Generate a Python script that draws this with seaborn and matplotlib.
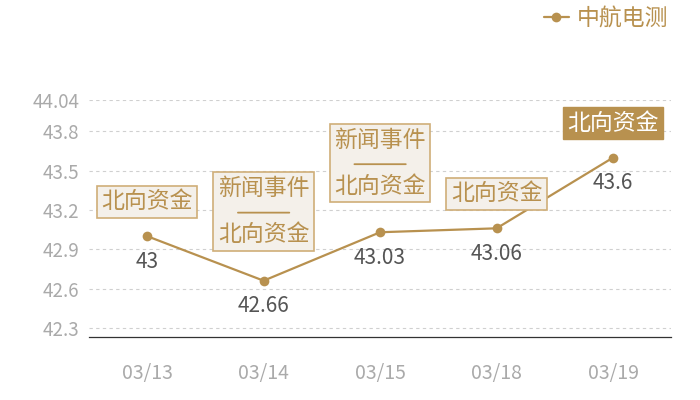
import matplotlib
matplotlib.use('Agg')
import matplotlib.pyplot as plt
from matplotlib.transforms import ScaledTranslation
import seaborn as sns

# data
dates = ['03/13', '03/14', '03/15', '03/18', '03/19']
values = [43.0, 42.66, 43.03, 43.06, 43.6]
value_labels = ['43', '42.66', '43.03', '43.06', '43.6']
notes = ['北向资金', '新闻事件\n \n北向资金', '新闻事件\n \n北向资金', '北向资金', '北向资金']
highlight = [False, False, False, False, True]
y_ticks = [42.3, 42.6, 42.9, 43.2, 43.5, 43.8, 44.04]
series_name = '中航电测'

gold = '#b8914f'
sns.set_theme(style='white')
plt.rcParams['font.family'] = ['Noto Sans CJK SC', 'DejaVu Sans']

fig = plt.figure(figsize=(7, 4), dpi=100)
ax = fig.add_axes([0.127, 0.1575, 0.832, 0.5925])

sns.lineplot(x=dates, y=values, ax=ax, color=gold, marker='o', markersize=7,
             markeredgewidth=0, linewidth=1.6, label=series_name, sort=False)

ax.set_xlim(-0.5, len(dates) - 0.5)
ax.set_ylim(42.23, 44.04)
ax.set_yticks(y_ticks)
ax.set_yticklabels([f'{t:g}' for t in y_ticks])
ax.grid(axis='y', color='#d0d0d0', linestyle=(0, (3, 3)), linewidth=0.8)
ax.grid(axis='x', visible=False)
for s in ['top', 'right', 'left']:
    ax.spines[s].set_visible(False)
ax.spines['bottom'].set_color('#333333')
ax.spines['bottom'].set_linewidth(0.9)
ax.tick_params(axis='both', length=0, colors='#aaaaaa')
ax.tick_params(axis='x', pad=19, labelsize=14)
ax.tick_params(axis='y', pad=7, labelsize=13.5)
ax.set_xlabel('')
ax.set_ylabel('')


def shifted(dx, dy):
    # data point moved by dx, dy points
    return ax.transData + ScaledTranslation(dx / 72, dy / 72, fig.dpi_scale_trans)


# value labels and notes
for i, (d, v) in enumerate(zip(dates, values)):
    ax.annotate(value_labels[i], xy=(i, v), xytext=(0, -10.5), textcoords='offset points',
                ha='center', va='top', fontsize=15, color='#555555')
    multi = '\n' in notes[i]
    off = 25 if multi else 16.5
    if highlight[i]:
        box = dict(boxstyle='square,pad=0.2', fc=gold, ec=gold, lw=1)
        tc = 'white'
    else:
        box = dict(boxstyle='square,pad=0.2', fc='#f4f0ea', ec='#cfae78', lw=1.2)
        tc = gold
    ax.annotate(notes[i], xy=(i, v), xytext=(0, off), textcoords='offset points',
                ha='center', va='bottom', fontsize=16.5, color=tc, bbox=box,
                linespacing=1.0, multialignment='center')
    if multi:
        # divider between the two lines of the note
        ax.annotate('', xy=(i, v), xycoords=shifted(-18.5, 49),
                    xytext=(i, v), textcoords=shifted(18.5, 49),
                    arrowprops=dict(arrowstyle='-', color=gold, lw=1.3,
                                    shrinkA=0, shrinkB=0))

leg = ax.legend(loc='upper right', bbox_to_anchor=(0.968, 1.005),
                bbox_transform=fig.transFigure, frameon=False, fontsize=16.5,
                handlelength=1.1, handletextpad=0.35, borderaxespad=0)
for t in leg.get_texts():
    t.set_color(gold)

fig.savefig('out.png', dpi=100)
